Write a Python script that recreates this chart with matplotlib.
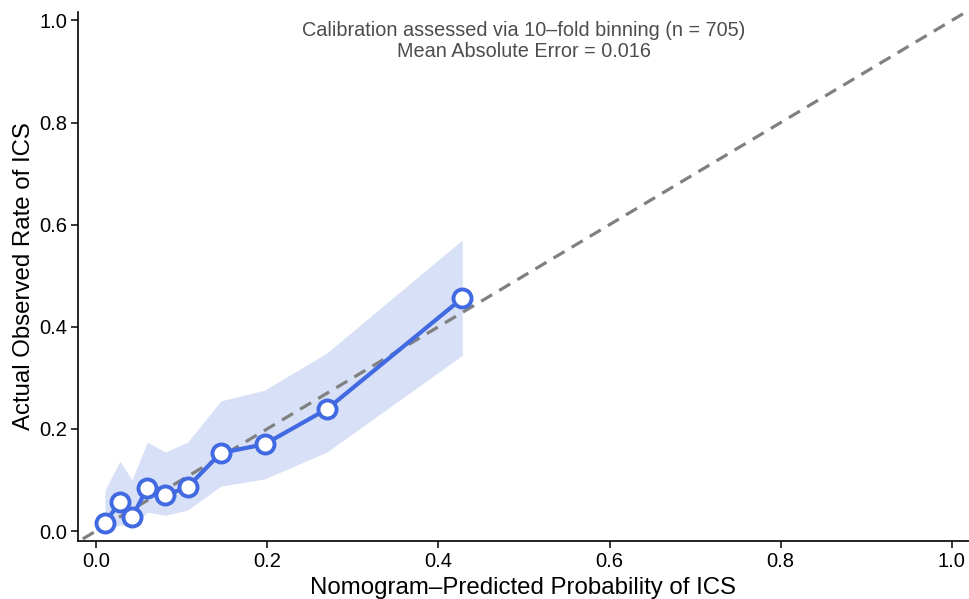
import matplotlib
matplotlib.use("Agg")
import matplotlib.pyplot as plt

plt.rcParams['font.family'] = ['Liberation Sans', 'DejaVu Sans']

pred = [0.0105, 0.028, 0.042, 0.060, 0.081, 0.107, 0.146, 0.197, 0.270, 0.428]
obs = [0.016, 0.057, 0.027, 0.084, 0.070, 0.086, 0.153, 0.170, 0.239, 0.456]
upper = [0.080, 0.137, 0.100, 0.174, 0.155, 0.174, 0.255, 0.276, 0.349, 0.570]
lower = [0.000, 0.012, 0.008, 0.037, 0.031, 0.041, 0.088, 0.102, 0.155, 0.344]
ticks = [0.0, 0.2, 0.4, 0.6, 0.8, 1.0]
tick_labels = ["0.0", "0.2", "0.4", "0.6", "0.8", "1.0"]
note = "Calibration assessed via 10\u2013fold binning (n = 705)\nMean Absolute Error = 0.016"

fig = plt.figure(figsize=(9.69, 5.99), dpi=100)
ax = fig.add_axes([78/969, 1-541/599, 1-78/969, (541-12)/599])

blue = '#4169E1'
ax.fill_between(pred, lower, upper, color='#d7e0f6', lw=0, zorder=1)
ax.plot([-0.1, 1.1], [-0.1, 1.1], ls=(0, (4, 2.6)), color='#808080', lw=2.3, zorder=2)
ax.plot(pred, obs, color=blue, lw=3, zorder=3)
ax.plot(pred, obs, ls='none', marker='o', ms=13, mfc='white', mec=blue, mew=2.8, zorder=4)

ax.set_xlim(-0.021, 1.02)
ax.set_ylim(-0.0195, 1.0165)
ax.set_xticks(ticks)
ax.set_xticklabels(tick_labels)
ax.set_yticks(ticks)
ax.set_yticklabels(tick_labels)
for s in ['top', 'right']:
    ax.spines[s].set_visible(False)
for s in ['left', 'bottom']:
    ax.spines[s].set_linewidth(1.2)
ax.tick_params(axis='both', direction='out', length=5, width=1.1, labelsize=14.5, colors='black', pad=3)
ax.set_xlabel("Nomogram\u2013Predicted Probability of ICS", fontsize=17.3, labelpad=4)
ax.set_ylabel("Actual Observed Rate of ICS", fontsize=17.3, labelpad=3)
ax.text(0.5, 0.959, note, ha='center', va='center', fontsize=14.3, color='#4d4d4d', linespacing=1.12)

fig.savefig("out.png", dpi=100)
